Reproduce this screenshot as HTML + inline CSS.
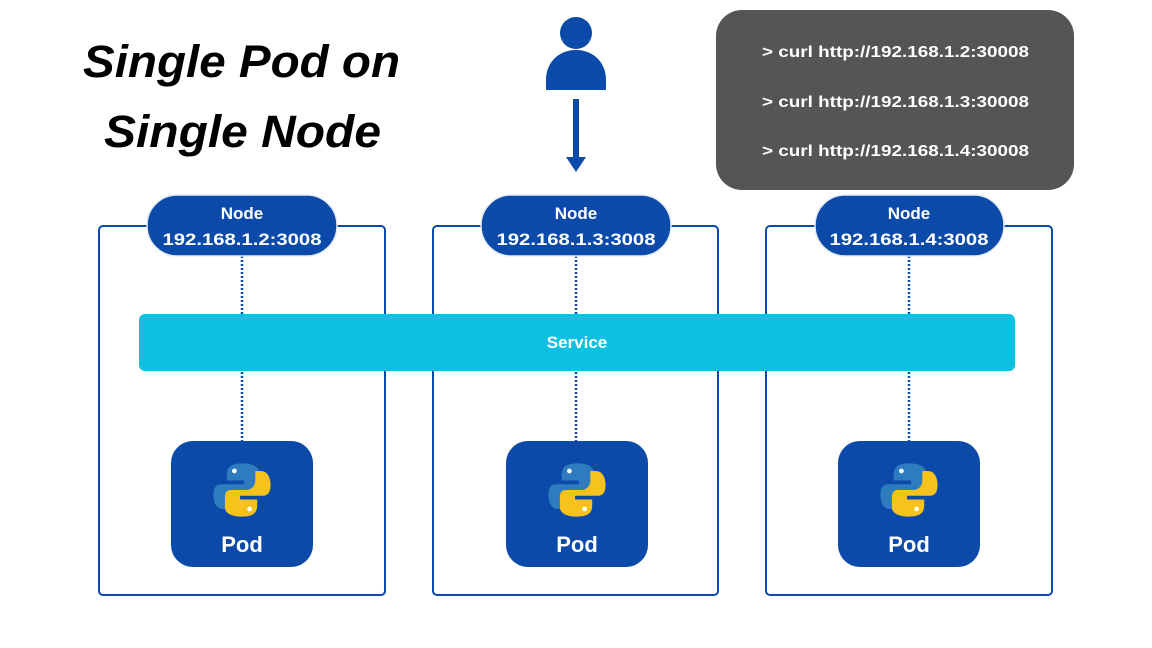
<!DOCTYPE html>
<html><head><meta charset="utf-8"><style>
html,body{margin:0;padding:0;background:#fff;}
svg{display:block;font-family:"Liberation Sans","DejaVu Sans",sans-serif;}
</style></head><body>
<svg width="1152" height="648" viewBox="0 0 1152 648" xmlns="http://www.w3.org/2000/svg">
<rect width="1152" height="648" fill="#fff"/>
<defs>
<g id="py">
  <path d="M0,-28 C-14,-28 -16,-22 -16,-16 L-16,-10 L2,-10 L2,-6 L-22,-6 C-30,-6 -30,2 -30,6 C-30,14 -26,20 -20,20 L-14,20 L-14,10 C-14,4 -10,0 -4,0 L12,0 C16,0 18,-3 18,-7 L18,-18 C18,-25 10,-28 0,-28 Z" fill="#2f7bbf"/>
  <circle cx="-8" cy="-20" r="2.5" fill="#fff"/>
  <path d="M0,28 C14,28 16,22 16,16 L16,10 L-2,10 L-2,6 L22,6 C30,6 30,-2 30,-6 C30,-14 26,-20 20,-20 L14,-20 L14,-10 C14,-4 10,0 4,0 L-12,0 C-16,0 -18,3 -18,7 L-18,18 C-18,25 -10,28 0,28 Z" fill="#f6c21b"/>
  <circle cx="8" cy="20" r="2.5" fill="#fff"/>
</g>
</defs>
<text x="83" y="77" textLength="317" lengthAdjust="spacingAndGlyphs" font-size="45" font-weight="bold" font-style="italic" fill="#000">Single Pod on</text>
<text x="104" y="147" textLength="277" lengthAdjust="spacingAndGlyphs" font-size="45" font-weight="bold" font-style="italic" fill="#000">Single Node</text>

<circle cx="576" cy="33" r="16" fill="#0b4aa8"/>
<path d="M546,90 L546,80 C546,62 559,50 576,50 C593,50 606,62 606,80 L606,90 Z" fill="#0b4aa8"/>
<rect x="573" y="99" width="6" height="60" fill="#0b4aa8"/>
<path d="M566,157 L586,157 L576,172 Z" fill="#0b4aa8"/>

<rect x="716" y="10" width="358" height="180" rx="26" fill="#555"/>
<g fill="#fff" font-size="16" font-weight="bold">
<text x="762" y="57" textLength="267" lengthAdjust="spacingAndGlyphs">&gt; curl http://192.168.1.2:30008</text>
<text x="762" y="107" textLength="267" lengthAdjust="spacingAndGlyphs">&gt; curl http://192.168.1.3:30008</text>
<text x="762" y="156" textLength="267" lengthAdjust="spacingAndGlyphs">&gt; curl http://192.168.1.4:30008</text>
</g>

<g fill="none" stroke="#0b4aa8" stroke-width="2">
<rect x="99" y="226" width="286" height="369" rx="4"/>
<rect x="433" y="226" width="285" height="369" rx="4"/>
<rect x="766" y="226" width="286" height="369" rx="4"/>
</g>
<g stroke="#0b4aa8" stroke-width="2.5" stroke-dasharray="2,2">
<line x1="242" y1="256" x2="242" y2="441"/>
<line x1="576" y1="256" x2="576" y2="441"/>
<line x1="909" y1="256" x2="909" y2="441"/>
</g>

<g fill="#0b4aa8" stroke="#e6ecf7" stroke-width="1.5">
<rect x="147" y="195" width="190" height="61" rx="30"/>
<rect x="481" y="195" width="190" height="61" rx="30"/>
<rect x="815" y="195" width="189" height="61" rx="30"/>
</g>
<g fill="#fff" font-size="17" font-weight="bold" text-anchor="middle">
<text x="242" y="219">Node</text><text x="242" y="245" textLength="159" lengthAdjust="spacingAndGlyphs">192.168.1.2:3008</text>
<text x="576" y="219">Node</text><text x="576" y="245" textLength="159" lengthAdjust="spacingAndGlyphs">192.168.1.3:3008</text>
<text x="909" y="219">Node</text><text x="909" y="245" textLength="159" lengthAdjust="spacingAndGlyphs">192.168.1.4:3008</text>
</g>

<rect x="139" y="314" width="876" height="57" rx="6" fill="#0bc0e0"/>
<text x="577" y="348" text-anchor="middle" fill="#fff" font-size="17" font-weight="bold">Service</text>

<g fill="#0b4aa8">
<rect x="171" y="441" width="142" height="126" rx="22"/>
<rect x="506" y="441" width="142" height="126" rx="22"/>
<rect x="838" y="441" width="142" height="126" rx="22"/>
</g>
<use href="#py" transform="translate(242,490) scale(0.95)"/>
<use href="#py" transform="translate(577,490) scale(0.95)"/>
<use href="#py" transform="translate(909,490) scale(0.95)"/>
<g fill="#fff" font-size="22" font-weight="bold" text-anchor="middle">
<text x="242" y="552">Pod</text>
<text x="577" y="552">Pod</text>
<text x="909" y="552">Pod</text>
</g>
</svg>
</body></html>
